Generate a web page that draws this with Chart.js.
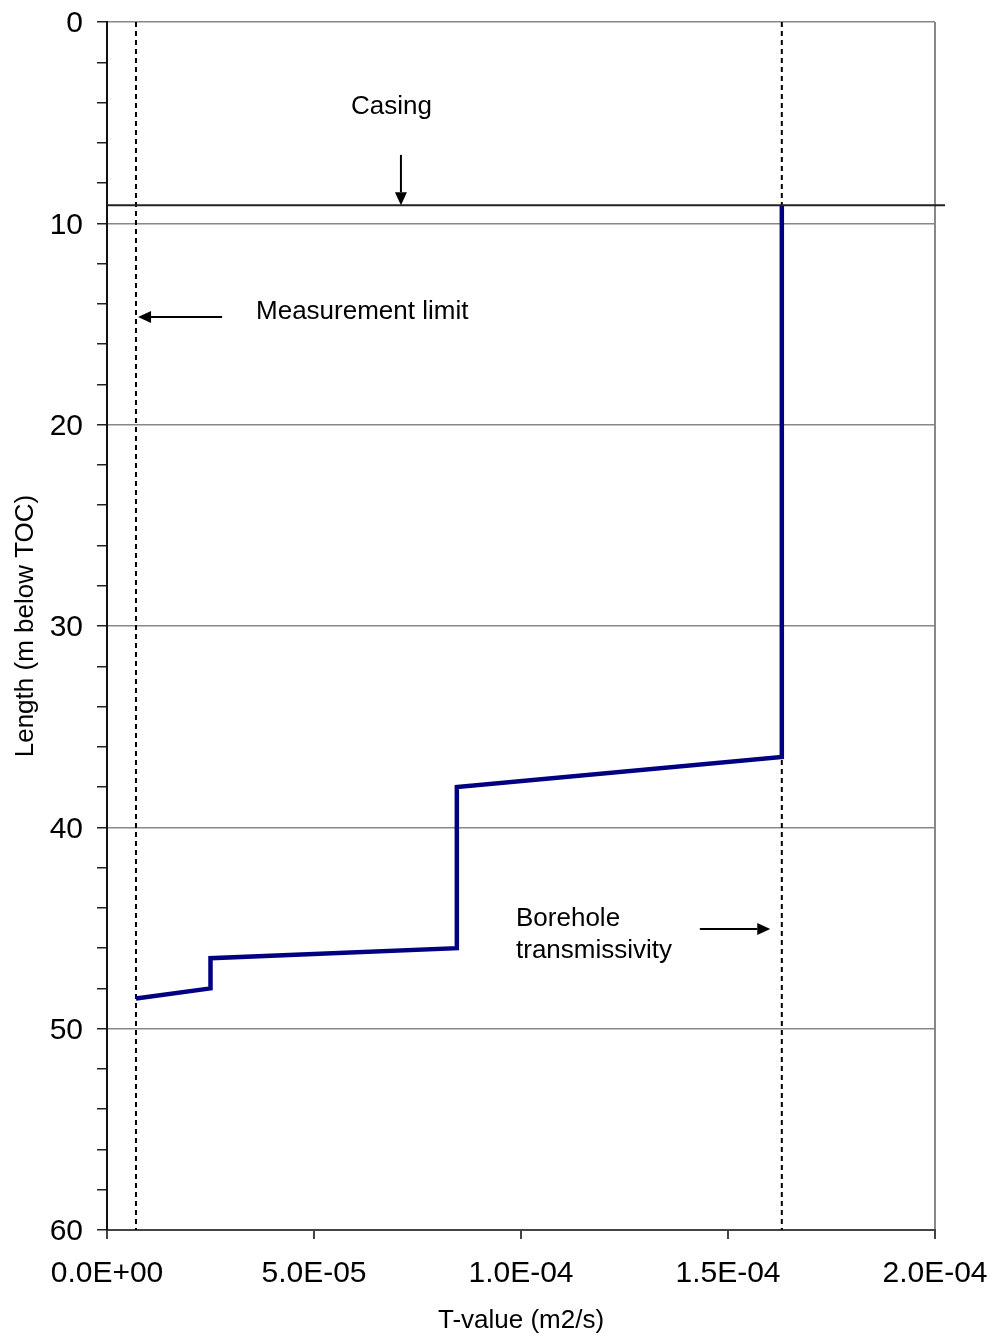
<!DOCTYPE html>
<html>
<head>
<meta charset="utf-8">
<script src="https://cdn.jsdelivr.net/npm/chart.js@4"></script>
<style>
  html, body { margin: 0; padding: 0; background: #fff; }
  #wrap { width: 992px; height: 1336px; position: relative; }
</style>
</head>
<body>
<div id="wrap"><canvas id="myChart"></canvas></div>
<script>
// T-value profile (m2/s) versus length (m below TOC)
const tValues = [1.63e-4, 1.63e-4, 8.45e-5, 8.45e-5, 2.5e-5, 2.5e-5, 7e-6];
const depths  = [9.1, 36.5, 38.0, 46.0, 46.5, 48.0, 48.5];

// dashed reference lines
const measurementLimit = 7e-6;
const boreholeT = 1.63e-4;
const refDepths = [0, 60];

// casing depth
const casingDepth = 9.1;

const xTicks = [0, 5e-5, 1e-4, 1.5e-4, 2e-4];
const yTickLabels = [0, 10, 20, 30, 40, 50, 60];

const FONT = '"Liberation Sans", Arial, sans-serif';

function sci(v) {
  let s = Number(v).toExponential(1);          // e.g. 5.0e-5
  let [m, e] = s.split('e');
  let sign = e[0] === '-' ? '-' : '+';
  let n = Math.abs(parseInt(e, 10));
  return m + 'E' + sign + (n < 10 ? '0' + n : n);
}

const annotations = {
  id: 'annotations',
  afterDatasetsDraw(chart) {
    const c = chart.ctx;
    const xs = chart.scales.x, ys = chart.scales.y;
    const X = v => xs.getPixelForValue(v);
    const Y = v => ys.getPixelForValue(v);

    function arrow(x1, y1, x2, y2) {
      const ang = Math.atan2(y2 - y1, x2 - x1);
      const L = 13, W = 6;
      c.save();
      c.strokeStyle = '#000';
      c.fillStyle = '#000';
      c.lineWidth = 2;
      c.beginPath();
      c.moveTo(x1, y1);
      c.lineTo(x2 - Math.cos(ang) * L, y2 - Math.sin(ang) * L);
      c.stroke();
      c.beginPath();
      c.moveTo(x2, y2);
      c.lineTo(x2 - Math.cos(ang) * L - Math.sin(ang) * W, y2 - Math.sin(ang) * L + Math.cos(ang) * W);
      c.lineTo(x2 - Math.cos(ang) * L + Math.sin(ang) * W, y2 - Math.sin(ang) * L - Math.cos(ang) * W);
      c.closePath();
      c.fill();
      c.restore();
    }

    // casing line, runs a little past the plot area
    c.save();
    c.strokeStyle = '#222';
    c.lineWidth = 2;
    c.beginPath();
    c.moveTo(X(0), Y(casingDepth));
    c.lineTo(chart.chartArea.right + 10, Y(casingDepth));
    c.stroke();
    c.restore();

    arrow(X(7.1e-5), Y(6.6), X(7.1e-5), Y(casingDepth));
    arrow(X(2.78e-5), Y(14.65), X(7.5e-6), Y(14.65));
    arrow(X(1.432e-4), Y(45.05), X(1.602e-4), Y(45.05));

    c.save();
    c.fillStyle = '#000';
    c.font = '26px ' + FONT;
    c.textBaseline = 'middle';
    c.textAlign = 'center';
    c.fillText('Casing', X(6.87e-5), Y(4.2));
    c.textAlign = 'left';
    c.fillText('Measurement limit', X(3.6e-5), Y(14.4));
    c.fillText('Borehole', X(9.88e-5), Y(44.55));
    c.fillText('transmissivity', X(9.88e-5), Y(46.15));
    c.restore();
  }
};

function noOverhang(scale) {
  scale.paddingLeft = 0;
  scale.paddingRight = 0;
  scale.paddingTop = 0;
  scale.paddingBottom = 0;
}

const ctx = document.getElementById('myChart').getContext('2d');
const chart = new Chart(ctx, {
  type: 'scatter',
  data: {
    datasets: [
      {
        label: 'T-value',
        data: tValues.map((t, i) => ({ x: t, y: depths[i] })),
        showLine: true,
        borderColor: '#000080',
        borderWidth: 4.5,
        pointRadius: 0,
        order: 1
      },
      {
        label: 'Measurement limit',
        data: refDepths.map(d => ({ x: measurementLimit, y: d })),
        showLine: true,
        borderColor: '#000',
        borderWidth: 2,
        borderDash: [5, 4],
        pointRadius: 0,
        order: 2
      },
      {
        label: 'Borehole transmissivity',
        data: refDepths.map(d => ({ x: boreholeT, y: d })),
        showLine: true,
        borderColor: '#000',
        borderWidth: 2,
        borderDash: [5, 4],
        pointRadius: 0,
        order: 2
      }
    ]
  },
  options: {
    responsive: true,
    maintainAspectRatio: false,
    animation: false,
    layout: { padding: { top: 22, right: 57, left: 0, bottom: 0 } },
    scales: {
      x: {
        type: 'linear',
        min: 0,
        max: 2e-4,
        afterBuildTicks(scale) {
          scale.ticks = xTicks.map(v => ({ value: v }));
        },
        afterFit(scale) { scale.height = 106; noOverhang(scale); },
        ticks: {
          callback: v => sci(v),
          color: '#000',
          font: { family: FONT, size: 30 },
          padding: 17,
          maxRotation: 0
        },
        grid: {
          color: c => (c.tick && Math.abs(c.tick.value - 2e-4) < 1e-12) ? '#888' : 'rgba(0,0,0,0)',
          tickColor: '#444',
          tickLength: 9,
          lineWidth: 2
        },
        border: { color: '#444', width: 2 },
        title: {
          display: true,
          text: 'T-value (m2/s)',
          color: '#000',
          font: { family: FONT, size: 26 },
          padding: { top: 6, bottom: 0 }
        }
      },
      y: {
        type: 'linear',
        reverse: true,
        min: 0,
        max: 60,
        afterBuildTicks(scale) {
          const t = [];
          for (let v = 0; v <= 60; v += 2) t.push({ value: v });
          scale.ticks = t;
        },
        afterFit(scale) { scale.width = 107; noOverhang(scale); },
        ticks: {
          callback: v => (yTickLabels.includes(v) ? String(v) : ''),
          color: '#000',
          font: { family: FONT, size: 30 },
          padding: 14,
          labelOffset: 2,
          autoSkip: false
        },
        grid: {
          color: c => (c.tick && c.tick.value % 10 === 0 && c.tick.value !== 60) ? '#888' : 'rgba(0,0,0,0)',
          tickColor: '#222',
          tickLength: 10,
          lineWidth: 1.5
        },
        border: { color: '#111', width: 2 },
        title: {
          display: true,
          text: 'Length (m below TOC)',
          color: '#000',
          font: { family: FONT, size: 26 },
          padding: { top: 10, bottom: 4 }
        }
      }
    },
    plugins: {
      legend: { display: false },
      tooltip: { enabled: false }
    }
  },
  plugins: [annotations]
});
</script>
</body>
</html>
